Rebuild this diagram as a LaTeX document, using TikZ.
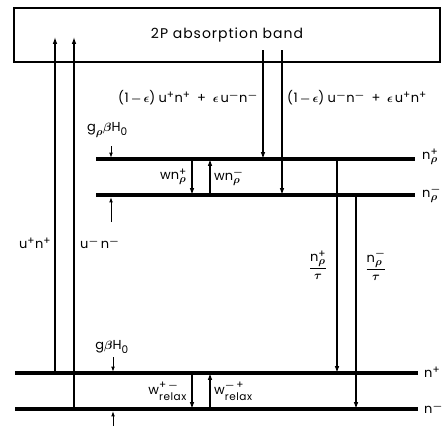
\documentclass[tikz,border=0pt]{standalone}
\usepackage{amsmath}
\usepackage{fontspec}
\setmainfont{Poppins}
\usetikzlibrary{arrows.meta,positioning}
\DeclareMathSizes{13}{13}{10.5}{8}
\newcommand{\rn}{\text{n}}
\newcommand{\ru}{\text{u}}
\newcommand{\rw}{\text{w}}
\newcommand{\Pl}{{\text{+}}}
\newcommand{\Mi}{{\boldsymbol{-}}}
\newcommand{\brho}{{\boldsymbol{\rho}}}
\newcommand{\beps}{{\boldsymbol{\epsilon}}}
\newcommand{\gH}{\boldsymbol{\beta}\text{H}_{\text{0}}}

\begin{document}
\begin{tikzpicture}[x=1pt,y=-1pt,
level/.style={line width=3.2pt},
trans/.style={-{Latex[length=2.4mm,width=1.6mm]}, line width=1.2pt},
tick/.style={-{Latex[length=1.9mm,width=1.3mm]}, line width=0.9pt},
lab/.style={font=\fontsize{13}{15}\selectfont\addfontfeature{LetterSpace=5}, inner sep=1pt}
]
\useasboundingbox (0,0) rectangle (443,428);

% absorption band
\node[draw, line width=2.4pt, minimum width=426pt, minimum height=54pt, outer sep=0pt,
  font=\fontsize{14}{16}\selectfont\addfontfeature{LetterSpace=7}] (band) at (227,35) {2P absorption band};

% levels
\coordinate (rp0) at (96,159); \coordinate (rp1) at (415,159);
\coordinate (rm0) at (96,195); \coordinate (rm1) at (415,195);
\coordinate (p0) at (15,373);  \coordinate (p1) at (418,373);
\coordinate (m0) at (15,409);  \coordinate (m1) at (418,409);
\draw[level] (rp0) -- (rp1);
\draw[level] (rm0) -- (rm1);
\draw[level] (p0) -- (p1);
\draw[level] (m0) -- (m1);
\node[lab, anchor=west] (lrp) at (421,157) {$\rn_\brho^\Pl$};
\node[lab, anchor=west] (lrm) at (421,194) {$\rn_\brho^\Mi$};
\node[lab, anchor=west] (lp) at (423,372) {$\rn^\Pl$};
\node[lab, anchor=west] (lm) at (423,408) {$\rn^\Mi$};

% pumping
\coordinate (a1) at (55,373); \coordinate (a1t) at (55,37);
\coordinate (a2) at (74,409); \coordinate (a2t) at (74,37);
\draw[trans] (a1) -- (a1t);
\draw[trans] (a2) -- (a2t);
\node[lab] (upn) at (35,243) {$\ru^\Pl\rn^\Pl$};
\node[lab, anchor=west] (umn) at (79,243) {$\ru^\Mi\,\rn^\Mi$};

% decay from band
\coordinate (b1) at (263,50); \coordinate (b1t) at (263,159);
\coordinate (b2) at (282,50); \coordinate (b2t) at (282,195);
\draw[trans] (b1) -- (b1t);
\draw[trans] (b2) -- (b2t);
\node[lab, anchor=east] (dp) at (259,98) {$\text{(1}\,\Mi\,\beps\text{)}\;\ru^\Pl\rn^\Pl\;\;\text{+}\;\;\beps\,\ru^\Mi\rn^\Mi$};
\node[lab, anchor=west] (dm) at (286,98) {$\text{(1}\,\Mi\,\beps\text{)}\;\ru^\Mi\rn^\Mi\;\;\text{+}\;\;\beps\,\ru^\Pl\rn^\Pl$};

% excited state mixing
\coordinate (c1) at (192,159); \coordinate (c1t) at (192,195);
\coordinate (c2) at (210,195); \coordinate (c2t) at (210,159);
\draw[trans] (c1) -- (c1t);
\draw[trans] (c2) -- (c2t);
\node[lab, anchor=east] (wp) at (188,177) {$\rw\rn_\brho^\Pl$};
\node[lab, anchor=west] (wm) at (213,177) {$\rw\rn_\brho^\Mi$};

% excited splitting
\coordinate (s1) at (111,146); \coordinate (s1t) at (111,158);
\coordinate (s2) at (111,222); \coordinate (s2t) at (111,197);
\draw[tick] (s1) -- (s1t);
\draw[tick] (s2) -- (s2t);
\node[lab, anchor=west] (gr) at (86,130) {$\text{g}_\brho\gH$};

% radiative decay
\coordinate (r1) at (337,159); \coordinate (r1t) at (337,373);
\coordinate (r2) at (356,195); \coordinate (r2t) at (356,409);
\draw[trans] (r1) -- (r1t);
\draw[trans] (r2) -- (r2t);
\node[lab] (tp) at (318,265) {$\dfrac{\rn_\brho^\Pl}{\boldsymbol{\tau}}$};
\node[lab] (tm) at (376,265) {$\dfrac{\rn_\brho^\Mi}{\boldsymbol{\tau}}$};

% ground splitting
\coordinate (g1) at (113,357); \coordinate (g1t) at (113,372);
\coordinate (g2) at (113,426); \coordinate (g2t) at (113,411);
\draw[tick] (g1) -- (g1t);
\draw[tick] (g2) -- (g2t);
\node[lab] (gg) at (112,347) {$\text{g}\gH$};

% relaxation
\coordinate (x1) at (192,373); \coordinate (x1t) at (192,409);
\coordinate (x2) at (210,409); \coordinate (x2t) at (210,373);
\draw[trans] (x1) -- (x1t);
\draw[trans] (x2) -- (x2t);
\node[lab, anchor=east] (wpm) at (188,391) {$\rw_{\text{relax}}^{\Pl\,\Mi}$};
\node[lab, anchor=west] (wmp) at (213,391) {$\rw_{\text{relax}}^{\Mi\,\Pl}$};
\end{tikzpicture}
\end{document}
